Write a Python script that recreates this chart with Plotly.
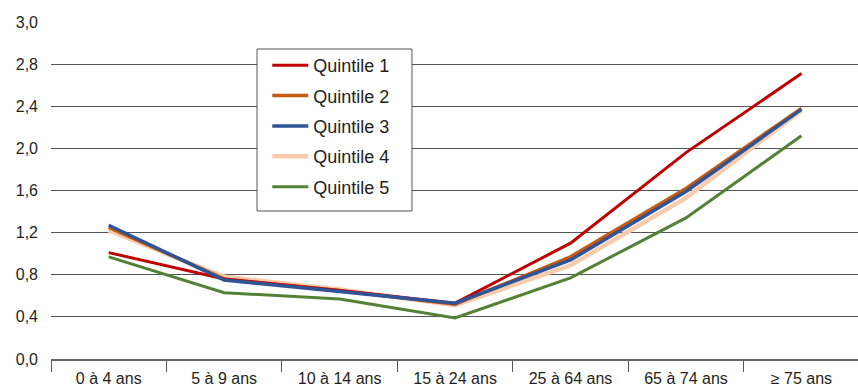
import plotly.graph_objects as go

categories = ["0 à 4 ans", "5 à 9 ans", "10 à 14 ans", "15 à 24 ans", "25 à 64 ans", "65 à 74 ans", "≥ 75 ans"]
q1 = [1.01, 0.76, 0.65, 0.53, 1.10, 1.96, 2.71]
q2 = [1.25, 0.76, 0.65, 0.52, 0.97, 1.62, 2.38]
q3 = [1.27, 0.75, 0.64, 0.53, 0.94, 1.59, 2.37]
q4 = [1.22, 0.78, 0.66, 0.51, 0.89, 1.53, 2.36]
q5 = [0.97, 0.63, 0.57, 0.39, 0.77, 1.34, 2.12]
tick_vals = [0, 0.4, 0.8, 1.2, 1.6, 2.0, 2.4, 2.8, 3.2]
tick_text = ["0,0", "0,4", "0,8", "1,2", "1,6", "2,0", "2,4", "2,8", "3,0"]

series = [
    ("Quintile 4", q4, "#F8CBAD", 4.5, 4),
    ("Quintile 2", q2, "#C55A11", 3.5, 2),
    ("Quintile 5", q5, "#538135", 3, 5),
    ("Quintile 1", q1, "#C00000", 3, 1),
    ("Quintile 3", q3, "#2F5597", 3.5, 3),
]

FONT = "Liberation Sans, Arial, sans-serif"
fig = go.Figure()
for name, vals, color, w, rank in series:
    fig.add_trace(go.Scatter(
        x=categories, y=vals, name=name, mode="lines",
        line=dict(color=color, width=w),
        legendrank=rank, legendgroup=name,
    ))

fig.update_layout(
    width=858, height=387,
    margin=dict(l=51, r=0, t=22, b=28),
    paper_bgcolor="white", plot_bgcolor="white",
    font=dict(family=FONT, size=16, color="#231F20"),
    showlegend=True,
    legend=dict(
        x=0.268, y=0.926, xanchor="left", yanchor="top",
        bgcolor="rgba(0,0,0,0)", borderwidth=0,
        font=dict(family=FONT, size=18, color="#231F20"),
        tracegroupgap=4, itemwidth=36,
    ),
    shapes=[dict(
        type="rect", xref="paper", yref="paper",
        x0=0.2553, x1=0.4473, y0=0.4392, y1=0.9199,
        fillcolor="white", line=dict(color="#555555", width=1), layer="above",
    )],
    xaxis=dict(
        type="category", range=[-0.5, 6.49],
        showgrid=False, showline=True, linecolor="#666666", linewidth=2,
        ticks="outside", tickson="boundaries", ticklen=11, tickcolor="#555555", tickwidth=1,
        ticklabelstandoff=4,
        tickfont=dict(family=FONT, size=16, color="#231F20"),
    ),
    yaxis=dict(
        range=[0, 3.2], tickvals=tick_vals, ticktext=tick_text,
        showgrid=True, gridcolor="#555555", gridwidth=1,
        showline=False, zeroline=False, ticks="",
        ticklabelstandoff=12,
        tickfont=dict(family=FONT, size=16, color="#231F20"),
    ),
)

fig.write_html("out.html", config={"displayModeBar": False},
               post_script="document.body.style.margin='0';")
